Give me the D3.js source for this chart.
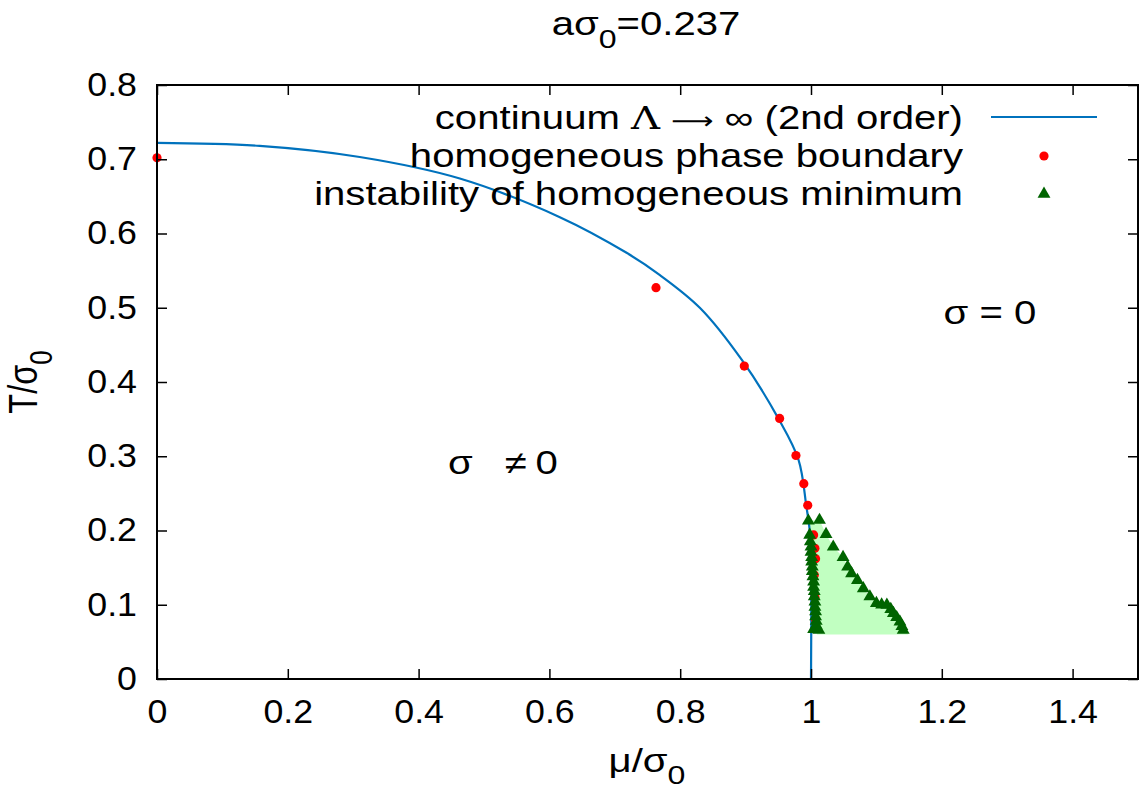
<!DOCTYPE html>
<html>
<head>
<meta charset="utf-8">
<script src="https://cdn.jsdelivr.net/npm/d3@7"></script>
<style>
  body { margin: 0; background: #fff; }
  text { font-family: "Liberation Sans", Arial, sans-serif; fill: #000; }
</style>
</head>
<body>
<svg></svg>
<script>
// continuum line, Lambda -> infinity
var curveMu = [0, 0.157, 0.31, 0.463, 0.616, 0.718, 0.769, 0.83, 0.894, 0.95, 0.981, 0.993, 0.998, 1.0, 1.0];
var curveT  = [0.722, 0.718, 0.703, 0.674, 0.622, 0.574, 0.544, 0.5, 0.43, 0.351, 0.295, 0.232, 0.2, 0.16, 0];

// homogeneous phase boundary (red dots)
var boundMu = [0, 0.763, 0.898, 0.952, 0.977, 0.989, 0.995, 1.004, 1.006, 1.007, 1.005, 1.006, 1.007];
var boundT  = [0.702, 0.527, 0.4215, 0.351, 0.301, 0.263, 0.234, 0.194, 0.176, 0.162, 0.14, 0.11, 0.08];

// instability of homogeneous minimum, left and right branch
var leftMu = [0.996, 0.998, 0.999, 1.0, 1.0, 1.001, 1.001, 1.002, 1.002, 1.003, 1.004, 1.004, 1.005, 1.005, 1.006, 1.006, 1.007, 1.007, 1.008, 1.008, 1.009, 1.004, 1.012];
var leftT  = [0.213, 0.194, 0.185, 0.178, 0.171, 0.164, 0.158, 0.151, 0.145, 0.138, 0.131, 0.124, 0.118, 0.111, 0.104, 0.097, 0.091, 0.084, 0.078, 0.072, 0.068, 0.067, 0.066];
var rightMu = [1.013, 1.023, 1.034, 1.049, 1.056, 1.062, 1.071, 1.080, 1.090, 1.100, 1.108, 1.116, 1.122, 1.126, 1.131, 1.136, 1.139, 1.141];
var rightT  = [0.214, 0.195, 0.178, 0.164, 0.151, 0.142, 0.133, 0.122, 0.111, 0.102, 0.100, 0.0997, 0.094, 0.0885, 0.083, 0.077, 0.071, 0.066];
var fillFloor = 0.06;

var muTicks = [0, 0.2, 0.4, 0.6, 0.8, 1, 1.2, 1.4];
var tTicks = [0, 0.1, 0.2, 0.3, 0.4, 0.5, 0.6, 0.7, 0.8];

var width = 1145,
  height = 791,
  fs = 32.5,
  sx = 1.235,
  tickSx = 1.1;

var svg = d3.select('svg')
  .attr('width', width)
  .attr('height', height);

var x = d3.scaleLinear().domain([0, 1.5]).range([157, 1138]);
var y = d3.scaleLinear().domain([0, 0.8]).range([679, 85]);

function pts(mu, t) { return mu.map((m, i) => [m, t[i]]); }

// stretched text helper
function label(px, py, anchor, rot) {
  return svg.append('text')
    .attr('transform', 'translate(' + [px, py] + ') scale(' + sx + ',1)' + (rot ? ' rotate(' + rot + ')' : ''))
    .attr('text-anchor', anchor)
    .style('font-size', fs + 'px');
}

// filled instability region
var left = pts(leftMu.slice(0, 21), leftT.slice(0, 21));
var right = pts(rightMu, rightT);
var poly = left
  .concat([[left[left.length - 1][0], fillFloor], [right[right.length - 1][0] + 0.008, fillFloor]])
  .concat(right.slice().reverse());
svg.append('path')
  .attr('d', d3.line().x(d => x(d[0])).y(d => y(d[1]))(poly) + 'Z')
  .attr('fill', '#c1ffc1')
  .attr('stroke', 'none');

// continuum line
svg.append('path')
  .datum(pts(curveMu, curveT))
  .attr('d', d3.line().x(d => x(d[0])).y(d => y(d[1])).curve(d3.curveCatmullRom))
  .attr('fill', 'none')
  .attr('stroke', '#0072bd')
  .attr('stroke-width', 2.2);

// red dots
svg.append('g').selectAll('circle')
  .data(pts(boundMu, boundT))
  .join('circle')
  .attr('cx', d => x(d[0]))
  .attr('cy', d => y(d[1]))
  .attr('r', 4.6)
  .attr('fill', '#ff0000');

// triangles
var tri = d3.symbol(d3.symbolTriangle, 72);
svg.append('g').selectAll('path')
  .data(pts(leftMu, leftT).concat(right))
  .join('path')
  .attr('d', tri)
  .attr('transform', d => 'translate(' + [x(d[0]), y(d[1])] + ')')
  .attr('fill', '#006400');

// axes, ticks pointing inward on all sides
var fmt = d3.format('~g');
var gx = svg.append('g').attr('transform', 'translate(0,' + y(0) + ')')
  .call(d3.axisBottom(x).tickValues(muTicks).tickFormat(fmt).tickSizeInner(-10).tickSizeOuter(0).tickPadding(21));
var gy = svg.append('g').attr('transform', 'translate(' + x(0) + ',0)')
  .call(d3.axisLeft(y).tickValues(tTicks).tickFormat(fmt).tickSizeInner(-10).tickSizeOuter(0).tickPadding(20 / tickSx));
var gt = svg.append('g').attr('transform', 'translate(0,' + y(0.8) + ')')
  .call(d3.axisTop(x).tickValues(muTicks).tickFormat('').tickSizeInner(-10).tickSizeOuter(0));
var gr = svg.append('g').attr('transform', 'translate(' + x(1.5) + ',0)')
  .call(d3.axisRight(y).tickValues(tTicks).tickFormat('').tickSizeInner(-10).tickSizeOuter(0));

[gx, gy, gt, gr].forEach(g => {
  g.select('.domain').remove();
  g.selectAll('line').attr('stroke', '#000').attr('stroke-width', 1.5);
});
[gx, gy].forEach(g => {
  g.selectAll('text')
    .attr('fill', '#000')
    .style('font-size', fs + 'px')
    .style('font-family', '"Liberation Sans", Arial, sans-serif')
    .attr('transform', 'scale(' + tickSx + ',1)');
});

svg.append('rect')
  .attr('x', x(0)).attr('y', y(0.8))
  .attr('width', x(1.5) - x(0)).attr('height', y(0) - y(0.8))
  .attr('fill', 'none').attr('stroke', '#000').attr('stroke-width', 2);

// title and axis labels
var title = label(646, 35, 'middle');
title.append('tspan').text('aσ');
title.append('tspan').attr('dy', 13).style('font-size', '26px').text('0');
title.append('tspan').attr('dy', -13).text('=0.237');

var xl = label(647, 772, 'middle');
xl.append('tspan').text('μ/σ');
xl.append('tspan').attr('dy', 12).style('font-size', '26px').text('0');

var yl = label(37, 382, 'middle', -90);
yl.append('tspan').text('T/σ');
yl.append('tspan').attr('dy', 12).style('font-size', '26px').text('0');

// region labels
label(990, 324, 'middle').text('σ = 0');
var ne = label(448, 474, 'start');
ne.append('tspan').text('σ');
ne.append('tspan').attr('dx', 26).text('≠');
ne.append('tspan').attr('dx', 7).text('0');

// legend
var legendRows = [
  ['continuum ', 'Λ', ' ', '⟶', ' ∞ (2nd order)'],
  ['homogeneous phase boundary'],
  ['instability of homogeneous minimum']
];
var rowY = [128.5, 166.8, 205];
legendRows.forEach((parts, i) => {
  var t = label(963, rowY[i], 'end');
  parts.forEach(p => {
    var sp = t.append('tspan').text(p);
    if (p === 'Λ') sp.style('font-family', '"DejaVu Serif", serif');
    if (p === '⟶') sp.style('font-family', '"DejaVu Sans", sans-serif').style('font-size', '24px');
  });
});
svg.append('line')
  .attr('x1', 991).attr('x2', 1097).attr('y1', 117).attr('y2', 117)
  .attr('stroke', '#0072bd').attr('stroke-width', 2.2);
svg.append('circle').attr('cx', 1044).attr('cy', 156).attr('r', 4.6).attr('fill', '#ff0000');
svg.append('path').attr('d', tri).attr('transform', 'translate(1044,194)').attr('fill', '#006400');
</script>
</body>
</html>
